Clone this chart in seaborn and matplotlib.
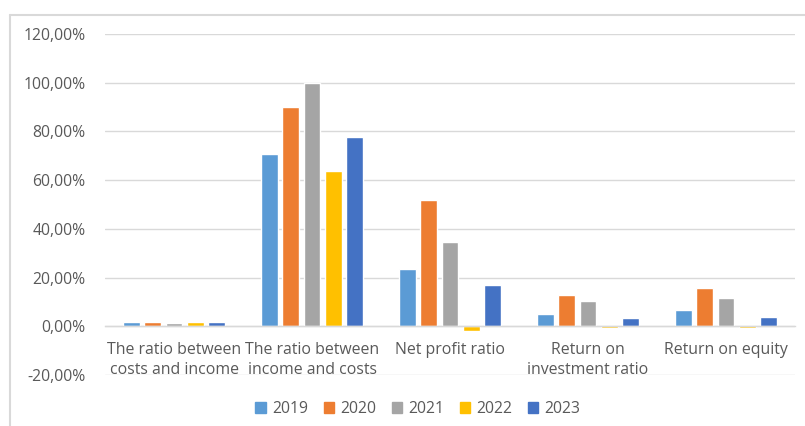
import matplotlib
matplotlib.use("Agg")
import matplotlib.pyplot as plt
import seaborn as sns
import pandas as pd
from matplotlib.lines import Line2D
from matplotlib.ticker import FuncFormatter

categories = ["The ratio between costs and income",
              "The ratio between income and costs",
              "Net profit ratio",
              "Return on investment ratio",
              "Return on equity"]
tick_labels = ["The ratio between\ncosts and income",
               "The ratio between\nincome and costs",
               "Net profit ratio",
               "Return on\ninvestment ratio",
               "Return on equity"]
years = ["2019", "2020", "2021", "2022", "2023"]
v2019 = [1.6, 70.6, 23.4, 5.1, 6.5]
v2020 = [1.6, 90.2, 51.7, 12.7, 15.6]
v2021 = [1.2, 100.0, 34.5, 10.3, 11.8]
v2022 = [1.9, 63.7, -1.9, -0.6, -0.5]
v2023 = [1.6, 77.6, 16.8, 3.5, 4.0]
colors = ["#5B9BD5", "#ED7D31", "#A5A5A5", "#FFC000", "#4472C4"]

rows = []
for y, vals in zip(years, [v2019, v2020, v2021, v2022, v2023]):
    for c, v in zip(categories, vals):
        rows.append({"category": c, "year": y, "value": v})
df = pd.DataFrame(rows)

sns.set_theme(style="white")
plt.rcParams["font.family"] = ["Open Sans", "DejaVu Sans"]
txt = "#595959"
grid = "#D9D9D9"

fig = plt.figure(figsize=(8.05, 4.26), dpi=100)
ax = fig.add_axes([105/805, 1-375/426, 690/805, (375-34)/426])
sns.barplot(data=df, x="category", y="value", hue="year", order=categories,
            hue_order=years, palette=colors, width=0.77, gap=0.22,
            errorbar=None, ax=ax, legend=True, saturation=1)

ax.set_ylim(-20, 120)
ax.set_yticks(range(-20, 121, 20))
ax.yaxis.set_major_formatter(FuncFormatter(lambda v, p: f"{v:.2f}%".replace(".", ",")))
ax.set_xlim(-0.5, 4.5)
ax.set_xticks(range(5))
ax.set_xticklabels(tick_labels)
ax.set_xlabel("")
ax.set_ylabel("")
ax.grid(axis="y", color=grid, linewidth=1)
ax.set_axisbelow(True)
for s in ["top", "right", "left"]:
    ax.spines[s].set_visible(False)
ax.spines["bottom"].set_position(("data", 0))
ax.spines["bottom"].set_color(grid)
ax.spines["bottom"].set_linewidth(1)
ax.tick_params(axis="both", length=0, colors=txt, labelsize=11.3)
ax.tick_params(axis="y", pad=14)
ax.tick_params(axis="x", pad=11)
for t in ax.get_xticklabels():
    t.set_color(txt)
    t.set_linespacing(1.35)
    t.set_fontsize(11.4)

ax.legend_.remove()
handles = [plt.Rectangle((0, 0), 1, 1, color=c) for c in colors]
fig.legend(handles, years, loc="center", bbox_to_anchor=(418/805, 1-409/426),
           ncol=5, frameon=False, handlelength=0.65, handleheight=0.65,
           handletextpad=0.4, columnspacing=1.0, fontsize=11.3, labelcolor=txt)

fig.add_artist(Line2D([10/805, 10/805], [0, 1-15/426], color=grid, linewidth=1.5))
fig.add_artist(Line2D([10/805, 1], [1-15/426, 1-15/426], color=grid, linewidth=1.5))

fig.savefig("out.png", dpi=100)
